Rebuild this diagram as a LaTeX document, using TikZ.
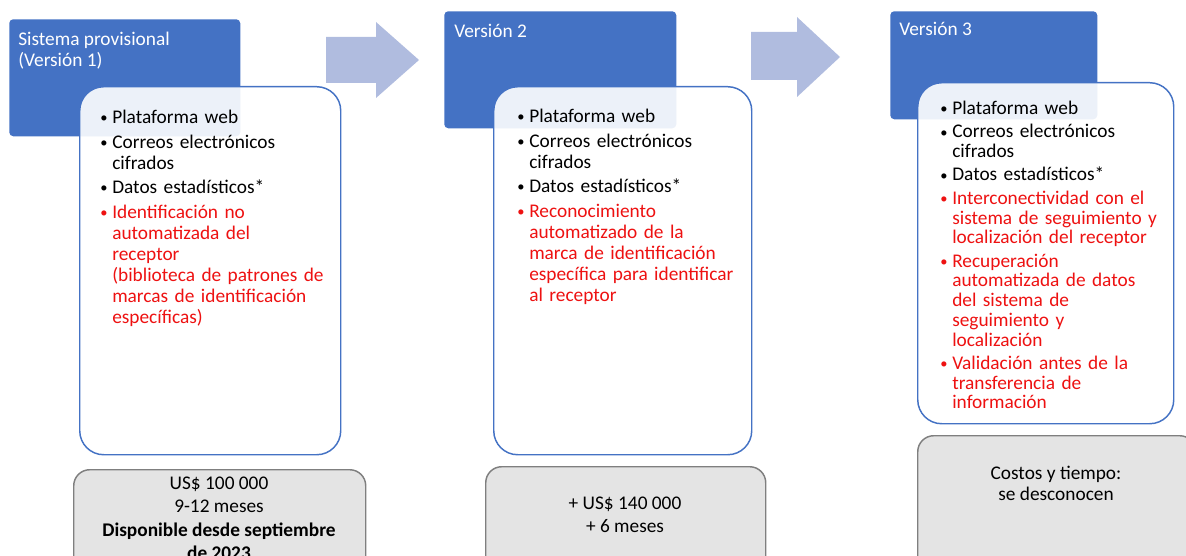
\documentclass[tikz,border=0pt]{standalone}
\usepackage{fontspec}
\usepackage{graphicx}
\setmainfont{Carlito}

\definecolor{hdblue}{HTML}{4472C4}
\definecolor{arrowblue}{HTML}{B0BCDF}
\definecolor{boxgray}{HTML}{E4E4E4}
\definecolor{linegray}{HTML}{7F7F7F}
\definecolor{itemred}{HTML}{EE1111}

\newcommand\blt[2][black]{\par\hangindent=9pt\hangafter=1\noindent\makebox[9pt][l]{\color{#1}\raisebox{0.6pt}{\scalebox{0.75}{\textbullet}}}{\color{#1}#2}\par}

\begin{document}
\begin{tikzpicture}[x=0.75pt,y=-0.75pt,
		hdbox/.style={anchor=north west,fill=hdblue,rounded corners=3pt,inner sep=0pt},
		wbox/.style={anchor=north west,draw=hdblue,line width=1.1pt,fill=white,fill opacity=0.9,rounded corners=18pt,inner sep=0pt},
		gbox/.style={anchor=north west,draw=linegray,line width=1.1pt,fill=boxgray,rounded corners=12pt,inner sep=0pt},
		hdtext/.style={anchor=north west,inner sep=0pt,align=left,text=white,font=\fontsize{14.5}{16.3}\selectfont},
		items/.style={anchor=north west,inner sep=0pt,text width=180pt,align=left,font={\fontsize{14.5}{15.75}\selectfont\setlength{\parskip}{2.6pt}}},
		cost/.style={anchor=north,inner sep=0pt,align=center,font=\fontsize{14.5}{17.6}\selectfont}]
		\useasboundingbox (0,0) rectangle (1186,556);
		\clip (0,0) rectangle (1186,556);

		\fill[arrowblue] (326,37) -- (376,37) -- (376,22) -- (419,60) -- (376,98) -- (376,83) -- (326,83) -- cycle;
		\fill[arrowblue] (751,32) -- (797,32) -- (797,17) -- (840,57) -- (797,97) -- (797,80) -- (751,80) -- cycle;

		\draw (9,19) node [hdbox,minimum width=173.25pt,minimum height=87.75pt] (hd1) {};
		\draw (79,86) node [wbox,minimum width=195.75pt,minimum height=276pt] (wb1) {};
		\draw (18,31.5) node [hdtext] (t1) {Sistema provisional\\(Versión 1)};
		\draw (100,99) node [items] (l1) {%
			\blt{Plataforma web}
			\blt{Correos electrónicos\newline cifrados}
			\blt{Datos estadísticos*}
			\blt[itemred]{Identificación no\newline automatizada del\newline receptor\newline (biblioteca de patrones de\newline marcas de identificación\newline específicas)}};
		\draw (73,469) node [gbox,minimum width=219pt,minimum height=90pt] (gb1) {};
		\draw (219,476.5) node [cost] (c1) {US\$ 100 000\\9-12 meses\\\textbf{Disponible desde septiembre}\\\textbf{de 2023}};

		\draw (444,11) node [hdbox,minimum width=174pt,minimum height=87.75pt] (hd2) {};
		\draw (493,86) node [wbox,minimum width=193.5pt,minimum height=276pt] (wb2) {};
		\draw (454,24) node [hdtext] (t2) {Versión 2};
		\draw (517,98) node [items] (l2) {%
			\blt{Plataforma web}
			\blt{Correos electrónicos\newline cifrados}
			\blt{Datos estadísticos*}
			\blt[itemred]{Reconocimiento\newline automatizado de la\newline marca de identificación\newline específica para identificar\newline al receptor}};
		\draw (485,466) node [gbox,minimum width=210pt,minimum height=90pt] (gb2) {};
		\draw (625,496.5) node [cost] (c2) {+ US\$ 140 000\\+ 6 meses};

		\draw (890,11) node [hdbox,minimum width=155.25pt,minimum height=81pt] (hd3) {};
		\draw (917,82) node [wbox,minimum width=192pt,minimum height=255.75pt] (wb3) {};
		\draw (899,21.5) node [hdtext] (t3) {Versión 3};
		\draw (940,91) node [items,font={\fontsize{14.5}{14.8}\selectfont\setlength{\parskip}{2.7pt}}] (l3) {%
			\blt{Plataforma web}
			\blt{Correos electrónicos\newline cifrados}
			\blt{Datos estadísticos*}
			\blt[itemred]{Interconectividad con el\newline sistema de seguimiento y\newline localización del receptor}
			\blt[itemred]{Recuperación\newline automatizada de datos\newline del sistema de\newline seguimiento y\newline localización}
			\blt[itemred]{Validación antes de la\newline transferencia de\newline información}};
		\draw (917,435) node [gbox,minimum width=208.5pt,minimum height=105pt] (gb3) {};
		\draw (1056,466) node [cost,font=\fontsize{14.5}{16}\selectfont] (c3) {Costos y tiempo:\\se desconocen};
	\end{tikzpicture}
\end{document}
